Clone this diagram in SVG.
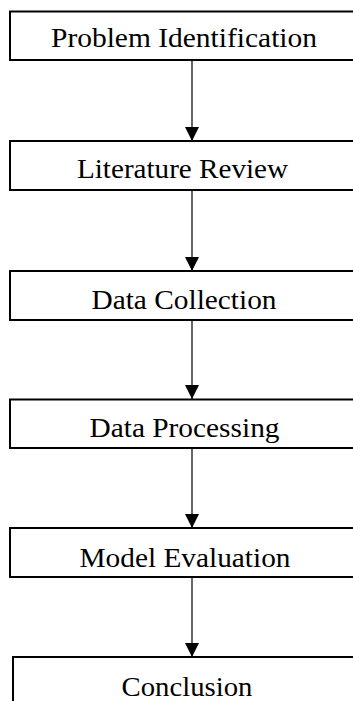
<svg xmlns="http://www.w3.org/2000/svg" width="353" height="701" viewBox="0 0 353 701">
<style>
.box{fill:#fff;stroke:#000;stroke-width:2}
.lbl{font-family:"Liberation Serif","Times New Roman",serif;font-size:27px;fill:#000;text-anchor:middle}
.conn{stroke:#000;stroke-width:1.2;fill:none;marker-end:url(#ah)}
</style>
<defs>
<marker id="ah" markerWidth="14" markerHeight="14" refX="14" refY="7" orient="auto" markerUnits="userSpaceOnUse">
<path d="M0,0 L14,7 L0,14 Z" fill="#000"/>
</marker>
</defs>
<rect width="353" height="701" fill="#fff"/>
<g id="connectors">
<line class="conn" x1="192" y1="60" x2="192" y2="141"/>
<line class="conn" x1="192" y1="190" x2="192" y2="271"/>
<line class="conn" x1="192" y1="320" x2="192" y2="399"/>
<line class="conn" x1="192" y1="448" x2="192" y2="528"/>
<line class="conn" x1="192" y1="577" x2="192" y2="657"/>
</g>
<g id="n1"><rect class="box" x="10" y="11.5" width="360" height="48.5"/><text class="lbl" x="184" y="47" textLength="266" lengthAdjust="spacingAndGlyphs">Problem Identification</text></g>
<g id="n2"><rect class="box" x="10" y="141" width="360" height="49"/><text class="lbl" x="182.5" y="178" textLength="211" lengthAdjust="spacingAndGlyphs">Literature Review</text></g>
<g id="n3"><rect class="box" x="10" y="271" width="360" height="49"/><text class="lbl" x="184" y="309" textLength="185" lengthAdjust="spacingAndGlyphs">Data Collection</text></g>
<g id="n4"><rect class="box" x="10" y="399.5" width="360" height="48.5"/><text class="lbl" x="184.5" y="437" textLength="190" lengthAdjust="spacingAndGlyphs">Data Processing</text></g>
<g id="n5"><rect class="box" x="10" y="528" width="360" height="49"/><text class="lbl" x="185" y="567" textLength="211" lengthAdjust="spacingAndGlyphs">Model Evaluation</text></g>
<g id="n6"><rect class="box" x="13" y="657" width="360" height="60"/><text class="lbl" x="187" y="696" textLength="131" lengthAdjust="spacingAndGlyphs">Conclusion</text></g>
</svg>
